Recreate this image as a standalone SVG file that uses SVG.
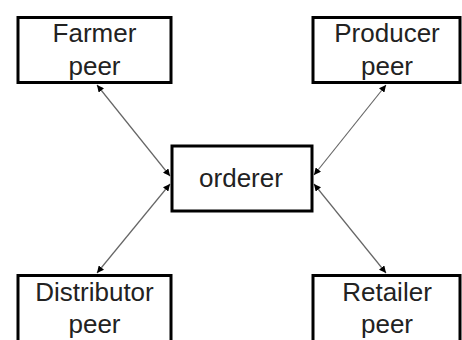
<svg xmlns="http://www.w3.org/2000/svg" width="462" height="340" viewBox="0 0 462 340">
<style>
.box{fill:#fff;stroke:#000;stroke-width:3}
.lbl{font-family:"Liberation Sans",Arial,sans-serif;font-size:26px;fill:#222;text-anchor:middle}
.conn{stroke:#666;stroke-width:1.2;fill:none;marker-start:url(#ah);marker-end:url(#ah)}
</style>
<defs>
<marker id="ah" viewBox="0 0 10 10" refX="10" refY="5" markerWidth="7" markerHeight="7" markerUnits="userSpaceOnUse" orient="auto-start-reverse">
<path d="M0,0 L10,5 L0,10 z" fill="#000"/>
</marker>
</defs>
<rect width="462" height="340" fill="#fff"/>
<g id="connectors">
<line class="conn" x1="97" y1="85" x2="170" y2="176"/>
<line class="conn" x1="386" y1="85" x2="314" y2="175"/>
<line class="conn" x1="97" y1="273" x2="170" y2="184"/>
<line class="conn" x1="386" y1="273" x2="314" y2="184"/>
</g>
<g id="farmer">
<rect class="box" x="18" y="17.5" width="153" height="65"/>
<text class="lbl" x="94.5" y="42">Farmer</text>
<text class="lbl" x="94.5" y="75">peer</text>
</g>
<g id="producer">
<rect class="box" x="313" y="17.5" width="147" height="65"/>
<text class="lbl" x="387" y="42">Producer</text>
<text class="lbl" x="387" y="75">peer</text>
</g>
<g id="orderer">
<rect class="box" x="172" y="146" width="140" height="65"/>
<text class="lbl" x="241" y="187">orderer</text>
</g>
<g id="distributor">
<rect class="box" x="18" y="275.5" width="153" height="80"/>
<text class="lbl" x="94.5" y="301">Distributor</text>
<text class="lbl" x="94.5" y="333">peer</text>
</g>
<g id="retailer">
<rect class="box" x="313" y="275.5" width="147" height="80"/>
<text class="lbl" x="387" y="301">Retailer</text>
<text class="lbl" x="387" y="333">peer</text>
</g>
</svg>
